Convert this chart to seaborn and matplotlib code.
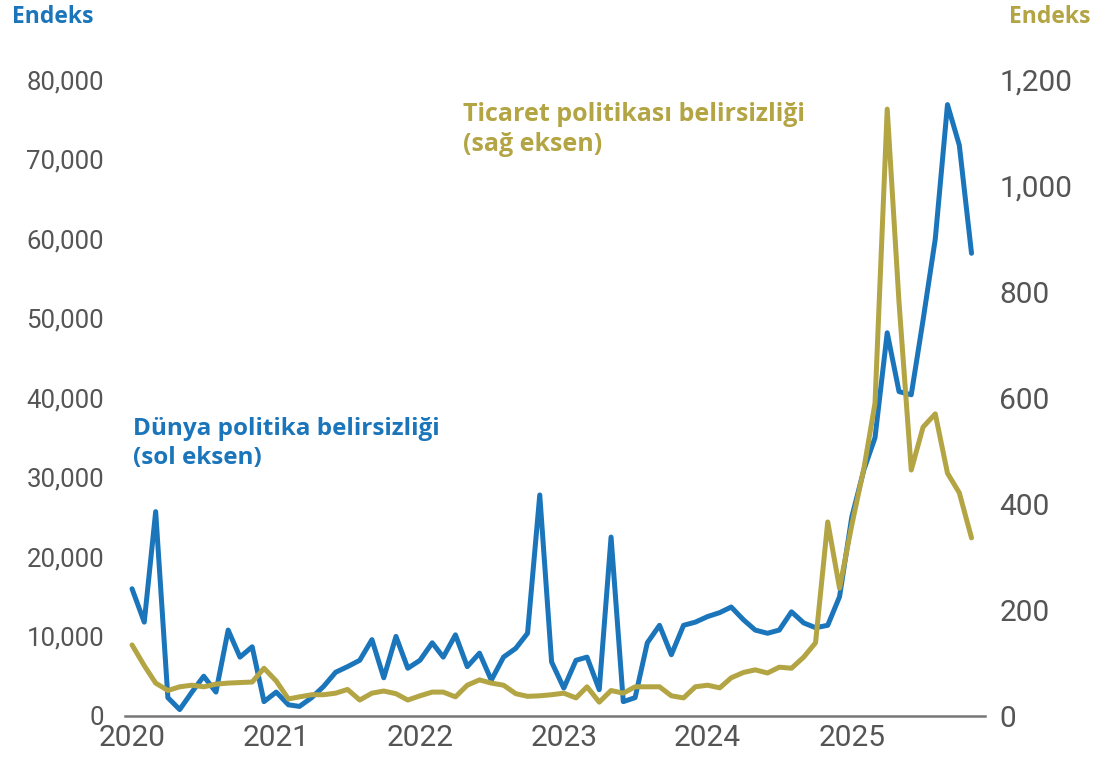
import pandas as pd
import matplotlib.pyplot as plt
import matplotlib.ticker as mticker
import seaborn as sns

# Monthly index values, Jan 2020 - Nov 2025
months = pd.date_range("2020-01-01", periods=71, freq="MS")

world_policy = [
    16000, 11800, 25700, 2300, 800, 3000, 5000, 3000, 10800, 7400, 8700, 1800,
    3000, 1400, 1200, 2300, 3700, 5500, 6200, 7000, 9600, 4800, 10000, 6000,
    7000, 9200, 7400, 10200, 6200, 7900, 4500, 7400, 8500, 10400, 27800, 6800,
    3500, 7000, 7400, 3300, 22500, 1800, 2300, 9200, 11400, 7700, 11400, 11800,
    12500, 13000, 13700, 12100, 10800, 10400, 10800, 13100, 11700, 11100, 11400, 15000,
    25000, 31000, 35000, 48200, 40800, 40400, 49800, 60000, 76900, 71800, 58200,
]

trade_policy = [
    134, 95, 62, 48, 55, 58, 55, 60, 62, 63, 64, 90,
    66, 32, 36, 40, 40, 43, 50, 30, 43, 47, 42, 30,
    38, 45, 45, 36, 58, 68, 62, 58, 42, 37, 38, 40,
    43, 34, 55, 26, 48, 43, 55, 55, 55, 38, 34, 55,
    58, 53, 72, 82, 87, 81, 92, 90, 111, 138, 366, 241,
    360, 468, 590, 1145, 780, 464, 545, 570, 458, 421, 336,
]

year_ticks = pd.to_datetime(["2020-01-01", "2021-01-01", "2022-01-01",
                             "2023-01-01", "2024-01-01", "2025-01-01"])
year_labels = ["2020", "2021", "2022", "2023", "2024", "2025"]

left_ticks = [0, 10000, 20000, 30000, 40000, 50000, 60000, 70000, 80000]
right_ticks = [0, 200, 400, 600, 800, 1000, 1200]

df = pd.DataFrame({"month": months, "world": world_policy, "trade": trade_policy})

BLUE = "#1b75bb"
GOLD = "#b3a444"
TICK = "#555555"

sns.set_theme(style="white")
plt.rcParams["font.family"] = ["Roboto", "DejaVu Sans"]

fig = plt.figure(figsize=(10.96, 7.69), dpi=100)
ax = fig.add_axes([0.114, 0.069, 0.785, 0.827])
ax2 = ax.twinx()

sns.lineplot(data=df, x="month", y="world", ax=ax, color=BLUE, linewidth=3.6)
sns.lineplot(data=df, x="month", y="trade", ax=ax2, color=GOLD, linewidth=3.6)

ax.set_xlim(pd.Timestamp("2019-12-14"), pd.Timestamp("2025-12-06"))
ax.set_ylim(0, 80000)
ax2.set_ylim(0, 1200)

ax.set_xticks(year_ticks)
ax.set_xticklabels(year_labels)
ax.set_yticks(left_ticks)
ax2.set_yticks(right_ticks)
ax.yaxis.set_major_formatter(mticker.FuncFormatter(lambda v, p: f"{int(v):,}"))
ax2.yaxis.set_major_formatter(mticker.FuncFormatter(lambda v, p: f"{int(v):,}"))

for a in (ax, ax2):
    a.set_xlabel("")
    a.set_ylabel("")
    a.grid(False)
    for side in ("top", "left", "right", "bottom"):
        a.spines[side].set_visible(False)
    a.tick_params(length=0, colors=TICK)

ax.spines["bottom"].set_visible(True)
ax.spines["bottom"].set_color("#777777")
ax.spines["bottom"].set_linewidth(1.8)
ax.tick_params(axis="y", pad=15, labelsize=18.5)
ax.tick_params(axis="x", pad=6, labelsize=21.5)
ax2.tick_params(axis="y", pad=10, labelsize=21.5)

# axis headers
fig.text(0.011, 0.994, "Endeks", color=BLUE, fontsize=16.5, fontweight="bold",
         family="Open Sans", ha="left", va="top")
fig.text(0.995, 0.994, "Endeks", color=GOLD, fontsize=16.5, fontweight="bold",
         family="Open Sans", ha="right", va="top")

# series labels
fig.text(0.121, 0.458, "Dünya politika belirsizliği\n(sol eksen)", color=BLUE,
         fontsize=17.5, fontweight="bold", family="Open Sans", ha="left", va="top",
         linespacing=1.3)
fig.text(0.422, 0.868, "Ticaret politikası belirsizliği\n(sağ eksen)", color=GOLD,
         fontsize=18, fontweight="bold", family="Open Sans", ha="left", va="top",
         linespacing=1.3)

fig.savefig("out.png", dpi=100)
